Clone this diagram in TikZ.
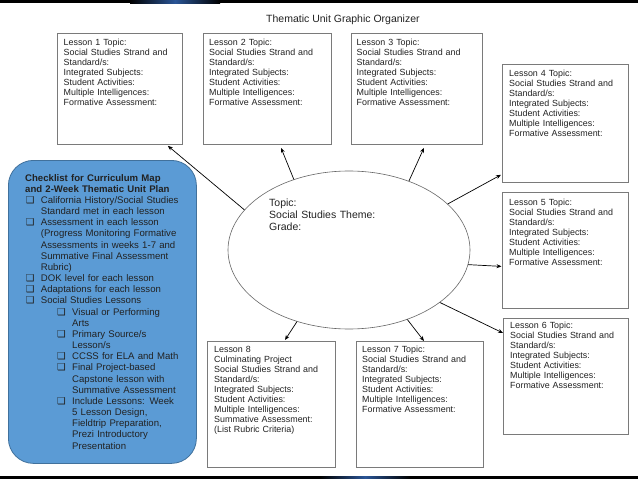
\documentclass[tikz,border=0pt]{standalone}
\usepackage{fontspec}
\setmainfont{Liberation Sans}
\newfontfamily\cbfont{DejaVu Sans}
\usetikzlibrary{shapes.geometric,arrows.meta,calc}
\definecolor{chkblue}{HTML}{5B9BD5}
\definecolor{chkedge}{HTML}{41719C}
\definecolor{boxedge}{HTML}{7A7A7A}
\definecolor{elledge}{HTML}{666666}
\definecolor{ink}{HTML}{222222}
\definecolor{barglow}{HTML}{2A5596}
\newcommand{\cbx}{\leavevmode\llap{\makebox[15pt][l]{\cbfont\fontsize{9.6}{9.6}\selectfont ❑}}}
\begin{document}
\begin{tikzpicture}[x=1pt,y=-1pt,
  lbox/.style={draw=boxedge, line width=0.8pt, anchor=north west, inner sep=0pt},
  ltext/.style={anchor=base west, inner sep=0pt, text width=124pt, align=left, text=ink,
    font=\fontsize{8.9}{10}\selectfont},
  conn/.style={draw=black, line width=0.7pt, -{Stealth[length=5pt,width=4pt]}},
  bigtext/.style={anchor=base west, inner sep=0pt, text=ink, font=\fontsize{10.5}{12.4}\selectfont},
]
\useasboundingbox (0,0) rectangle (638,479);
\fill[white] (0,0) rectangle (638,479);
% dark bars
\fill[black] (0,0) rectangle (638,3);
\shade[left color=black, right color=black, middle color=barglow] (130,0) rectangle (220,3);
\fill[black] (0,476) rectangle (638,479);
\shade[left color=black, right color=black, middle color=barglow] (320,476) rectangle (410,479);

% title
\node[bigtext] (title) at (266,23) {Thematic Unit Graphic Organizer};

% lesson boxes
\node[lbox, minimum width=125pt, minimum height=111pt] (l1) at (57,33) {};
\node[lbox, minimum width=128pt, minimum height=111pt] (l2) at (203,33) {};
\node[lbox, minimum width=131pt, minimum height=111pt] (l3) at (350.5,33) {};
\node[lbox, minimum width=126pt, minimum height=118pt] (l4) at (502,64) {};
\node[lbox, minimum width=126pt, minimum height=116pt] (l5) at (502,192) {};
\node[lbox, minimum width=125pt, minimum height=116pt] (l6) at (503,318) {};
\node[lbox, minimum width=127pt, minimum height=126pt] (l7) at (356,341) {};
\node[lbox, minimum width=128pt, minimum height=126pt] (l8) at (207,341) {};

\node[ltext] (l1t) at ([xshift=6.5pt,yshift=-12.5pt]l1.north west) {Lesson 1 Topic:\\Social Studies Strand and\\Standard/s:\\Integrated Subjects:\\Student Activities:\\Multiple Intelligences:\\Formative Assessment:};
\node[ltext] (l2t) at ([xshift=6pt,yshift=-12.5pt]l2.north west) {Lesson 2 Topic:\\Social Studies Strand and\\Standard/s:\\Integrated Subjects:\\Student Activities:\\Multiple Intelligences:\\Formative Assessment:};
\node[ltext] (l3t) at ([xshift=6pt,yshift=-12.5pt]l3.north west) {Lesson 3 Topic:\\Social Studies Strand and\\Standard/s:\\Integrated Subjects:\\Student Activities:\\Multiple Intelligences:\\Formative Assessment:};
\node[ltext] (l4t) at ([xshift=7pt,yshift=-12.5pt]l4.north west) {Lesson 4 Topic:\\Social Studies Strand and\\Standard/s:\\Integrated Subjects:\\Student Activities:\\Multiple Intelligences:\\Formative Assessment:};
\node[ltext] (l5t) at ([xshift=7pt,yshift=-13pt]l5.north west) {Lesson 5 Topic:\\Social Studies Strand and\\Standard/s:\\Integrated Subjects:\\Student Activities:\\Multiple Intelligences:\\Formative Assessment:};
\node[ltext] (l6t) at ([xshift=7pt,yshift=-10.5pt]l6.north west) {Lesson 6 Topic:\\Social Studies Strand and\\Standard/s:\\Integrated Subjects:\\Student Activities:\\Multiple Intelligences:\\Formative Assessment:};
\node[ltext] (l7t) at ([xshift=6pt,yshift=-11pt]l7.north west) {Lesson 7 Topic:\\Social Studies Strand and\\Standard/s:\\Integrated Subjects:\\Student Activities:\\Multiple Intelligences:\\Formative Assessment:};
\node[ltext] (l8t) at ([xshift=7pt,yshift=-11pt]l8.north west) {Lesson 8\\Culminating Project\\Social Studies Strand and\\Standard/s:\\Integrated Subjects:\\Student Activities:\\Multiple Intelligences:\\Summative Assessment:\\(List Rubric Criteria)};

% central ellipse
\node[ellipse, draw=elledge, line width=0.6pt, minimum width=242pt, minimum height=158pt, inner sep=0pt] (topic) at (349,250) {};
\node[bigtext, text width=150pt, align=left] (topict) at (269,206) {Topic:\\Social Studies Theme:\\Grade:};

% connectors
\draw[conn] (topic.159.9) -- ([xshift=-15pt,yshift=-1pt]l1.south east);
\draw[conn] (topic.128.8) -- ([xshift=78pt,yshift=-3pt]l2.south west);
\draw[conn] (topic.49) -- ([xshift=73.5pt,yshift=-3pt]l3.south west);
\draw[conn] (topic.25.2) -- ([xshift=-1pt,yshift=8pt]l4.south west);
\draw[conn] (topic.-7.6) -- ([xshift=-0.5pt,yshift=-16pt]l5.west);
\draw[conn] (topic.-30.2) -- ([xshift=0pt,yshift=-15pt]l6.north west);
\draw[conn] (topic.-50) -- ([xshift=68pt]l7.north west);
\draw[conn] (topic.-126.4) -- ([xshift=78pt,yshift=1pt]l8.north west);

% checklist panel
\node[draw=chkedge, fill=chkblue, rounded corners=25pt, line width=0.8pt, anchor=north west,
  minimum width=188pt, minimum height=303pt, inner sep=0pt] (chk) at (8,160) {};
\node[anchor=base west, inner sep=0pt, text width=172pt, align=left, text=ink,
  font=\fontsize{9.6}{11.17}\selectfont] (chkt) at (25,181) {%
{\bfseries Checklist for Curriculum Map\\and 2-Week Thematic Unit Plan}\par
\leftskip=15.7pt
\cbx California History/Social Studies\\Standard met in each lesson\par
\cbx Assessment in each lesson\\(Progress Monitoring Formative\\Assessments in weeks 1-7 and\\Summative Final Assessment\\Rubric)\par
\cbx DOK level for each lesson\par
\cbx Adaptations for each lesson\par
\cbx Social Studies Lessons\par
\leftskip=47pt
\cbx Visual or Performing\\Arts\par
\cbx Primary Source/s\\Lesson/s\par
\cbx CCSS for ELA and Math\par
\cbx Final Project-based\\Capstone lesson with\\Summative Assessment\par
\cbx Include Lessons: Week\\5 Lesson Design,\\Fieldtrip Preparation,\\Prezi Introductory\\Presentation\par};
\end{tikzpicture}
\end{document}
